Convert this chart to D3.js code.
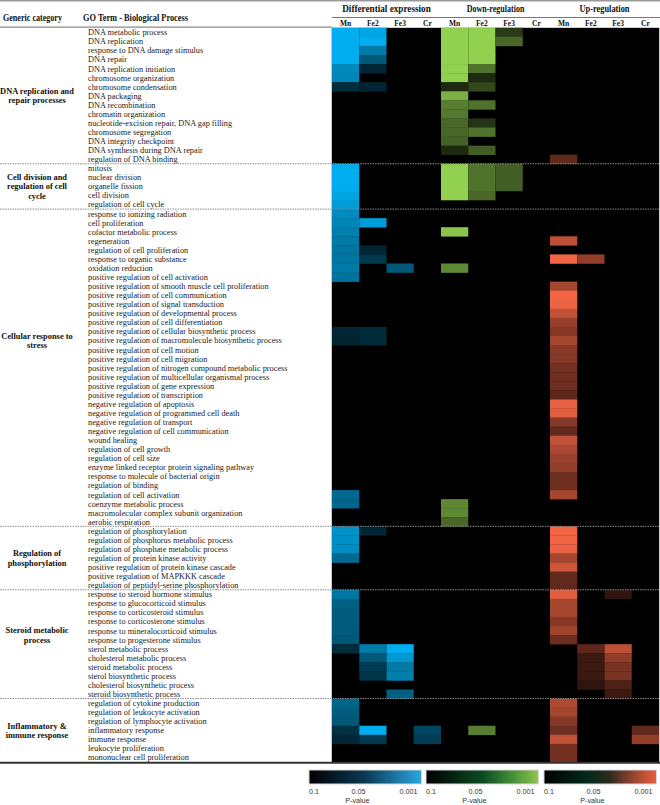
<!DOCTYPE html>
<html><head><meta charset="utf-8">
<script src="https://cdn.jsdelivr.net/npm/d3@7"></script>
<style>body{margin:0;background:#fff}svg{display:block}</style>
</head><body><svg id="c" width="660" height="805"></svg>
<script>
// ---------------- DATA ----------------
const groupNames = [
  "DNA replication and|repair processes",
  "Cell division and|regulation of cell|cycle",
  "Cellular response to|stress",
  "Regulation of|phosphorylation",
  "Steroid metabolic|process",
  "Inflammatory &|immune response"
];
const groupSizes = [15, 5, 35, 7, 12, 7];
const terms = [
  "DNA metabolic process","DNA replication","response to DNA damage stimulus","DNA repair","DNA replication initiation",
  "chromosome organization","chromosome condensation","DNA packaging","DNA recombination","chromatin organization",
  "nucleotide-excision repair, DNA gap filling","chromosome segregation","DNA integrity checkpoint","DNA synthesis during DNA repair","regulation of DNA binding",
  "mitosis","nuclear division","organelle fission","cell division","regulation of cell cycle",
  "response to ionizing radiation","cell proliferation","cofactor metabolic process","regeneration","regulation of cell proliferation",
  "response to organic substance","oxidation reduction","positive regulation of cell activation","positive regulation of smooth muscle cell proliferation","positive regulation of cell communication",
  "positive regulation of signal transduction","positive regulation of developmental process","positive regulation of cell differentiation","positive regulation of cellular biosynthetic process","positive regulation of macromolecule biosynthetic process",
  "positive regulation of cell motion","positive regulation of cell migration","positive regulation of nitrogen compound metabolic process","positive regulation of multicellular organismal process","positive regulation of gene expression",
  "positive regulation of transcription","negative regulation of apoptosis","negative regulation of programmed cell death","negative regulation of transport","negative regulation of cell communication",
  "wound healing","regulation of cell growth","regulation of cell size","enzyme linked receptor protein signaling pathway","response to molecule of bacterial origin",
  "regulation of binding","regulation of cell activation","coenzyme metabolic process","macromolecular complex subunit organization","aerobic respiration",
  "regulation of phosphorylation","regulation of phosphorus metabolic process","regulation of phosphate metabolic process","regulation of protein kinase activity","positive regulation of protein kinase cascade",
  "positive regulation of MAPKKK cascade","regulation of peptidyl-serine phosphorylation",
  "response to steroid hormone stimulus","response to glucocorticoid stimulus","response to corticosteroid stimulus","response to corticosterone stimulus","response to mineralocorticoid stimulus",
  "response to progesterone stimulus","sterol metabolic process","cholesterol metabolic process","steroid metabolic process","sterol biosynthetic process",
  "cholesterol biosynthetic process","steroid biosynthetic process",
  "regulation of cytokine production","regulation of leukocyte activation","regulation of lymphocyte activation","inflammatory response","immune response",
  "leukocyte proliferation","mononuclear cell proliferation"
];
const sets = ["Differential expression", "Down-regulation", "Up-regulation"];
const metals = ["Mn", "Fe2", "Fe3", "Cr"];
const legendTicks = [0.1, 0.05, 0.001];

// p-values per column: [term index, p-value]
const deMn  = [[0,0.001],[1,0.001],[2,0.001],[3,0.001],[4,0.021],[5,0.023],[6,0.075],[15,0.001],[16,0.001],[17,0.001],[18,0.006],[19,0.011],
  [20,0.021],[21,0.024],[22,0.027],[23,0.030],[24,0.033],[25,0.032],[26,0.030],[27,0.034],[33,0.078],[34,0.080],[51,0.040],[52,0.042],
  [55,0.016],[56,0.018],[57,0.019],[58,0.040],[62,0.032],[63,0.045],[64,0.048],[65,0.048],[66,0.048],[67,0.050],[68,0.075],
  [74,0.042],[75,0.048],[76,0.050],[77,0.072],[78,0.078]];
const deFe2 = [[0,0.006],[1,0.001],[2,0.030],[3,0.050],[4,0.078],[6,0.078],[21,0.011],[24,0.078],[25,0.068],[33,0.075],[34,0.075],
  [55,0.078],[68,0.030],[69,0.050],[70,0.065],[71,0.070],[77,0.001],[78,0.067]];
const deFe3 = [[26,0.050],[68,0.001],[69,0.013],[70,0.030],[71,0.028],[73,0.045]];
const deCr  = [[77,0.060],[78,0.065]];
const dnMn  = [[0,0.001],[1,0.001],[2,0.001],[3,0.001],[4,0.001],[5,0.001],[6,0.080],[7,0.016],[8,0.040],[9,0.042],[10,0.050],[11,0.050],
  [12,0.053],[13,0.080],[15,0.001],[16,0.001],[17,0.001],[18,0.001],[22,0.006],[26,0.035],[52,0.035],[53,0.035],[54,0.050]];
const dnFe2 = [[0,0.001],[1,0.001],[2,0.001],[3,0.001],[4,0.045],[5,0.080],[6,0.065],[8,0.045],[10,0.075],[11,0.045],[13,0.055],
  [15,0.045],[16,0.045],[17,0.045],[18,0.050],[77,0.040]];
const dnFe3 = [[0,0.072],[1,0.050],[15,0.055],[16,0.055],[17,0.055]];
const dnCr  = [];
const upMn  = [[14,0.060],[23,0.023],[25,0.001],[28,0.032],[29,0.001],[30,0.003],[31,0.021],[32,0.038],[33,0.045],[34,0.032],[35,0.044],
  [36,0.045],[37,0.052],[38,0.054],[39,0.054],[40,0.062],[41,0.006],[42,0.008],[43,0.045],[44,0.060],[45,0.021],[46,0.030],[47,0.037],
  [48,0.040],[49,0.054],[50,0.054],[51,0.032],[55,0.001],[56,0.001],[57,0.004],[58,0.032],[59,0.016],[60,0.060],[61,0.060],
  [62,0.008],[63,0.032],[64,0.032],[65,0.045],[66,0.035],[67,0.055],[74,0.028],[75,0.032],[76,0.045],[77,0.054],[78,0.021],[79,0.052],[80,0.052]];
const upFe2 = [[25,0.040],[68,0.062],[69,0.075],[70,0.075],[71,0.075],[72,0.080]];
const upFe3 = [[62,0.080],[68,0.023],[69,0.040],[70,0.050],[71,0.050],[72,0.068],[73,0.075]];
const upCr  = [[77,0.060],[78,0.040]];

const columns = [deMn, deFe2, deFe3, deCr, dnMn, dnFe2, dnFe3, dnCr, upMn, upFe2, upFe3, upCr];

// ---------------- DRAW ----------------
const svg = d3.select("#c");
const serif = "'Liberation Serif', 'DejaVu Serif', serif";
const sans = "'Liberation Sans', Arial, sans-serif";
const W = 660;
const yTop = 27.8, yBot = 762, x0 = 332, x1 = 659;

const colKeys = d3.range(12);
const x = d3.scaleBand().domain(colKeys).range([x0, x1]);
const y = d3.scaleBand().domain(d3.range(terms.length)).range([yTop, yBot]);
const bright = ["#00aeef", "#92d050", "#f26645"];
const pToT = d3.scaleLinear().domain(legendTicks).range([0, 0.5, 1]).clamp(true);
const cellColor = (set, p) => d3.interpolateRgb("#000000", bright[set])(pToT(p));

// black heat area
svg.append("rect").attr("x", x0).attr("y", yTop).attr("width", x1 - x0).attr("height", yBot - yTop).attr("fill", "#000");

// cells
columns.forEach((col, ci) => {
  const set = Math.floor(ci / 4);
  svg.append("g").selectAll("rect").data(col).join("rect")
    .attr("x", x(ci)).attr("y", d => y(d[0]))
    .attr("width", x.bandwidth()).attr("height", y.bandwidth() + 0.3)
    .attr("fill", d => cellColor(set, d[1]));
});

// top border & header lines
svg.append("line").attr("x1", 0).attr("x2", W).attr("y1", 0.7).attr("y2", 0.7).attr("stroke", "#9a9a9a").attr("stroke-width", 1.4);
svg.append("line").attr("x1", 0).attr("x2", x0).attr("y1", yTop - 0.6).attr("y2", yTop - 0.6).attr("stroke", "#8a8a8a").attr("stroke-width", 1.2);
svg.append("line").attr("x1", x0).attr("x2", x1 + 1).attr("y1", 17.5).attr("y2", 17.5).attr("stroke", "#555").attr("stroke-width", 0.8);

// vertical borders of heat area
[x0 - 0.5, x1 + 0.5].forEach(v => svg.append("line").attr("x1", v).attr("x2", v).attr("y1", yTop).attr("y2", yBot)
  .attr("stroke", "#c8c8c8").attr("stroke-width", 1));

// header texts
svg.append("text").attr("x", 3).attr("y", 21).attr("font-family", serif).attr("font-weight", "bold")
  .attr("font-size", 9.5).attr("textLength", 59).attr("lengthAdjust", "spacingAndGlyphs").attr("fill", "#111").text("Generic category");
svg.append("text").attr("x", 83).attr("y", 21).attr("font-family", serif).attr("font-weight", "bold")
  .attr("font-size", 9.5).attr("textLength", 105).attr("lengthAdjust", "spacingAndGlyphs").attr("fill", "#111").text("GO Term - Biological Process");

sets.forEach((s, si) => {
  const cx = (x(si * 4) + x(si * 4 + 3) + x.bandwidth()) / 2;
  svg.append("text").attr("x", cx).attr("y", 12).attr("text-anchor", "middle").attr("font-family", serif)
    .attr("font-weight", "bold").attr("font-size", 10).attr("fill", "#111")
    .attr("textLength", s.length * 3.85).attr("lengthAdjust", "spacingAndGlyphs").text(s);
});
colKeys.forEach(ci => {
  svg.append("text").attr("x", x(ci) + x.bandwidth() / 2).attr("y", 26).attr("text-anchor", "middle")
    .attr("font-family", serif).attr("font-weight", "bold").attr("font-size", 7.5).attr("fill", "#111").text(metals[ci % 4]);
});

// term labels
svg.append("g").selectAll("text").data(terms).join("text")
  .attr("x", 88).attr("y", (d, i) => y(i) + y.bandwidth() - 1.6)
  .attr("font-family", serif).attr("font-size", 8.3).attr("fill", "#1a1a1a").text(d => d);

// group labels and separators
let start = 0;
const labelShift = [0, 0, -3, 0, -1, 0];
groupSizes.forEach((n, gi) => {
  const lines = groupNames[gi].split("|");
  const centerY = y(start) + (n / 2 + labelShift[gi]) * y.step();
  const lh = 9.3;
  lines.forEach((ln, li) => {
    svg.append("text").attr("x", 37).attr("y", centerY + (li - (lines.length - 1) / 2) * lh + 3)
      .attr("text-anchor", "middle").attr("font-family", serif).attr("font-weight", "bold")
      .attr("font-size", 8.4).attr("fill", "#111").text(ln);
  });
  start += n;
  if (gi < groupSizes.length - 1) {
    const yy = y(start);
    svg.append("line").attr("x1", 0).attr("x2", W).attr("y1", yy).attr("y2", yy)
      .attr("stroke", "#8c8c8c").attr("stroke-width", 1).attr("stroke-dasharray", "1.5,1");
  }
});

// bottom thick line
svg.append("line").attr("x1", 0).attr("x2", W).attr("y1", yBot + 0.8).attr("y2", yBot + 0.8).attr("stroke", "#333").attr("stroke-width", 2);

// legends
const defs = svg.append("defs");
const legendStops = [
  [[0, "#000000"], [0.5, "#0a3a57"], [1, "#2aa7df"]],
  [[0, "#000000"], [0.5, "#0b4a22"], [0.75, "#3f8c35"], [1, "#8fc64b"]],
  [[0, "#000000"], [0.38, "#02291a"], [0.58, "#2a2a1c"], [0.8, "#9a4530"], [1, "#ea5f3d"]]
];
const legendX = [309, 426, 544];
const lw = 112.5, ly = 770, lhgt = 14;
legendStops.forEach((stops, li) => {
  const g = defs.append("linearGradient").attr("id", "lg" + li).attr("x1", "0%").attr("x2", "100%");
  stops.forEach(s => g.append("stop").attr("offset", s[0]).attr("stop-color", s[1]));
  const lx = legendX[li];
  svg.append("rect").attr("x", lx).attr("y", ly).attr("width", lw).attr("height", lhgt)
    .attr("fill", `url(#lg${li})`).attr("stroke", "#d8d8d8").attr("stroke-width", 1);
  const ls = d3.scaleLinear().domain(legendTicks).range([lx, lx + lw * 0.44, lx + lw - 4]);
  legendTicks.forEach((t, ti) => {
    svg.append("text").attr("x", ls(t)).attr("y", 793.5)
      .attr("text-anchor", ti === 0 ? "start" : ti === 1 ? "middle" : "end")
      .attr("font-family", sans).attr("font-size", 7.2).attr("fill", "#333").text(String(t));
  });
  svg.append("text").attr("x", lx + lw * 0.43).attr("y", 803).attr("text-anchor", "middle")
    .attr("font-family", sans).attr("font-size", 7.2).attr("fill", "#333").text("P-value");
});
</script></body></html>
